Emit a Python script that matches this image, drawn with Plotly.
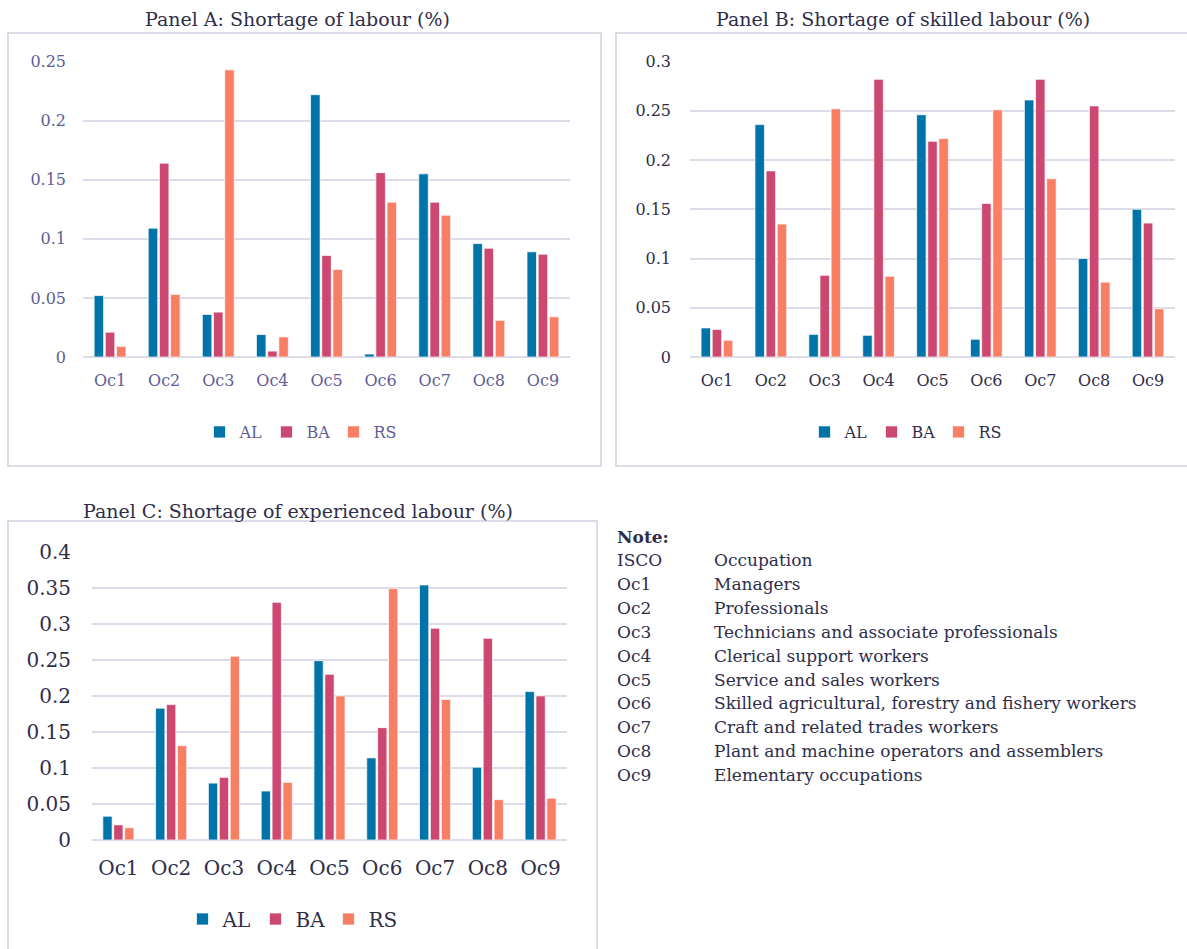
import plotly.graph_objects as go

W, H = 1187, 949

occupations = ["Oc1", "Oc2", "Oc3", "Oc4", "Oc5", "Oc6", "Oc7", "Oc8", "Oc9"]
series_names = ["AL", "BA", "RS"]
series_colors = ["#0074a9", "#cc4870", "#f87e64"]

# Panel A: shortage of labour
labour_al = [0.052, 0.109, 0.036, 0.019, 0.222, 0.0025, 0.155, 0.096, 0.089]
labour_ba = [0.021, 0.164, 0.038, 0.005, 0.086, 0.156, 0.131, 0.092, 0.087]
labour_rs = [0.009, 0.053, 0.243, 0.017, 0.074, 0.131, 0.120, 0.031, 0.034]

# Panel B: shortage of skilled labour
skilled_al = [0.0295, 0.236, 0.023, 0.022, 0.246, 0.018, 0.261, 0.100, 0.150]
skilled_ba = [0.028, 0.189, 0.083, 0.282, 0.219, 0.156, 0.282, 0.255, 0.136]
skilled_rs = [0.017, 0.135, 0.252, 0.082, 0.222, 0.251, 0.181, 0.076, 0.049]

# Panel C: shortage of experienced labour
exper_al = [0.033, 0.183, 0.079, 0.068, 0.249, 0.114, 0.354, 0.101, 0.206]
exper_ba = [0.021, 0.188, 0.087, 0.330, 0.230, 0.156, 0.294, 0.280, 0.200]
exper_rs = [0.017, 0.131, 0.255, 0.080, 0.200, 0.349, 0.195, 0.056, 0.058]

panel_titles = [
    "Panel A: Shortage of labour (%)",
    "Panel B: Shortage of skilled labour (%)",
    "Panel C: Shortage of experienced labour (%)",
]
y_ticks_a = [0, 0.05, 0.1, 0.15, 0.2, 0.25]
y_ticks_b = [0, 0.05, 0.1, 0.15, 0.2, 0.25, 0.3]
y_ticks_c = [0, 0.05, 0.1, 0.15, 0.2, 0.25, 0.3, 0.35, 0.4]

note_codes = ["ISCO", "Oc1", "Oc2", "Oc3", "Oc4", "Oc5", "Oc6", "Oc7", "Oc8", "Oc9"]
note_labels = [
    "Occupation",
    "Managers",
    "Professionals",
    "Technicians and associate professionals",
    "Clerical support workers",
    "Service and sales workers",
    "Skilled agricultural, forestry and fishery workers",
    "Craft and related trades workers",
    "Plant and machine operators and assemblers",
    "Elementary occupations",
]

FONT = "DejaVu Serif"
DARK = "#2e2e4a"
PURPLE = "#5d5d98"
GRID = "#dcdce8"


def px(x):
    return x / W


def py(y):
    return 1 - y / H


fig = go.Figure()

panels = [
    ("x", "y", "legend", [labour_al, labour_ba, labour_rs]),
    ("x2", "y2", "legend2", [skilled_al, skilled_ba, skilled_rs]),
    ("x3", "y3", "legend3", [exper_al, exper_ba, exper_rs]),
]
for xa, ya, lg, data in panels:
    for name, color, vals in zip(series_names, series_colors, data):
        fig.add_trace(go.Bar(
            x=occupations, y=vals, name=name, xaxis=xa, yaxis=ya, legend=lg,
            marker=dict(color=color, line=dict(color="rgba(255,255,255,0.7)", width=1)),
        ))


def xaxis(domain, anchor, color, size, standoff):
    return dict(domain=domain, anchor=anchor, showgrid=False, showline=False,
                zeroline=False, ticks="", tickfont=dict(family=FONT, size=size, color=color),
                ticklabelstandoff=standoff, fixedrange=True)


def yaxis(domain, anchor, rng, ticks, color, size, standoff):
    return dict(domain=domain, anchor=anchor, range=rng, tickvals=ticks,
                ticktext=[("%g" % t) for t in ticks], showgrid=True, gridcolor=GRID,
                gridwidth=2, zeroline=True, zerolinecolor=GRID, zerolinewidth=2,
                showline=False, ticks="", tickfont=dict(family=FONT, size=size, color=color),
                ticklabelstandoff=standoff, fixedrange=True)


def legend(cx, cy, size, color, entry):
    return dict(orientation="h", x=px(cx), xanchor="center", y=py(cy), yanchor="middle",
                font=dict(family=FONT, size=size, color=color), itemwidth=30,
                entrywidth=entry, entrywidthmode="pixels", bgcolor="rgba(0,0,0,0)")


fig.update_layout(
    width=W, height=H, margin=dict(l=0, r=0, t=0, b=0, autoexpand=False),
    paper_bgcolor="white", plot_bgcolor="white",
    barmode="group", bargap=0.38, bargroupgap=0.15,
    font=dict(family=FONT, color=DARK),
    xaxis=xaxis([px(83), px(570)], "y", PURPLE, 16, 12),
    yaxis=yaxis([py(357), py(61)], "x", [0, 0.2505], y_ticks_a, PURPLE, 16, 16),
    xaxis2=xaxis([px(690), px(1175)], "y2", DARK, 16, 12),
    yaxis2=yaxis([py(357), py(61)], "x2", [0, 0.3006], y_ticks_b, DARK, 16, 18),
    xaxis3=xaxis([px(92), px(567)], "y3", DARK, 20, 14),
    yaxis3=yaxis([py(840), py(551)], "x3", [0, 0.4012], y_ticks_c, DARK, 20, 20),
    legend=legend(300, 432, 16, PURPLE, 22),
    legend2=legend(905, 432, 16, DARK, 22),
    legend3=legend(292, 919, 20, DARK, 28),
    showlegend=True,
)

# Panel frames
frames = [(8, 33, 601, 466), (616, 33, 1195, 466), (8, 521, 597, 960)]
for x0, y0, x1, y1 in frames:
    fig.add_shape(type="rect", xref="paper", yref="paper",
                  x0=px(x0), x1=px(x1), y0=py(y0), y1=py(y1),
                  line=dict(color=GRID, width=2), fillcolor="rgba(0,0,0,0)", layer="below")

# Panel titles
for text, cx, cy in zip(panel_titles, [298, 903, 298], [19, 19, 511]):
    fig.add_annotation(text=text, xref="paper", yref="paper", x=px(cx), y=py(cy),
                       xanchor="center", yanchor="middle", showarrow=False,
                       font=dict(family=FONT, size=19, color=DARK))

# Occupation note
NOTE_SIZE = 17
fig.add_annotation(text="<b>Note:</b>", xref="paper", yref="paper", x=px(615), y=py(537),
                   xanchor="left", yanchor="middle", showarrow=False,
                   font=dict(family=FONT, size=NOTE_SIZE, color=DARK))
for i, (code, label) in enumerate(zip(note_codes, note_labels)):
    yy = py(560 + i * 23.9)
    fig.add_annotation(text=code, xref="paper", yref="paper", x=px(615), y=yy,
                       xanchor="left", yanchor="middle", showarrow=False,
                       font=dict(family=FONT, size=NOTE_SIZE, color=DARK))
    fig.add_annotation(text=label, xref="paper", yref="paper", x=px(712), y=yy,
                       xanchor="left", yanchor="middle", showarrow=False,
                       font=dict(family=FONT, size=NOTE_SIZE, color=DARK))

fig.write_html("out.html")
